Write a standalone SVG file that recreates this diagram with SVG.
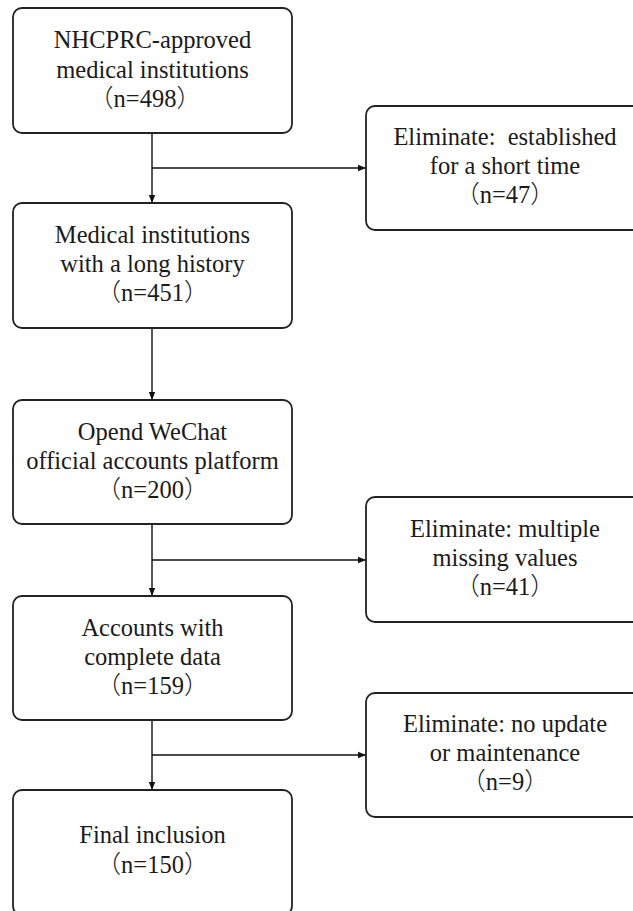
<svg xmlns="http://www.w3.org/2000/svg" width="633" height="911" viewBox="0 0 633 911">
<style>
.box{fill:#fff;stroke:#222;stroke-width:1.8}
.t{font-family:"Liberation Serif","Times New Roman",serif;font-size:24.5px;fill:#1a1a1a;text-anchor:middle}
.p{font-family:"Noto Sans CJK SC",sans-serif;font-weight:300}
.c{fill:none;stroke:#111;stroke-width:1.4}
</style>
<defs>
<marker id="ah" viewBox="0 0 10 10" refX="10" refY="5" markerWidth="8" markerHeight="8" markerUnits="userSpaceOnUse" orient="auto">
<path d="M0,1 L10,5 L0,9 z" fill="#111"/>
</marker>
</defs>
<rect width="633" height="911" fill="#fff"/>
<g id="connectors">
<line class="c" x1="152" y1="133" x2="152" y2="203" marker-end="url(#ah)"/>
<line class="c" x1="152" y1="168" x2="366" y2="168" marker-end="url(#ah)"/>
<line class="c" x1="152" y1="328" x2="152" y2="400" marker-end="url(#ah)"/>
<line class="c" x1="152" y1="524" x2="152" y2="596" marker-end="url(#ah)"/>
<line class="c" x1="152" y1="560" x2="366" y2="560" marker-end="url(#ah)"/>
<line class="c" x1="152" y1="720" x2="152" y2="790" marker-end="url(#ah)"/>
<line class="c" x1="152" y1="755" x2="366" y2="755" marker-end="url(#ah)"/>
</g>
<g id="n1">
<rect class="box" x="13" y="8" width="279" height="125" rx="9"/>
<text class="t" x="152.5" y="48">NHCPRC-approved</text>
<text class="t" x="152.5" y="78">medical institutions</text>
<text class="t" x="145" y="107"><tspan class="p">（</tspan>n=498<tspan class="p">）</tspan></text>
</g>
<g id="e1">
<rect class="box" x="366" y="106" width="279" height="124" rx="9"/>
<text class="t" x="505" y="145" xml:space="preserve">Eliminate:  established</text>
<text class="t" x="505" y="174">for a short time</text>
<text class="t" x="505" y="203"><tspan class="p">（</tspan>n=47<tspan class="p">）</tspan></text>
</g>
<g id="n2">
<rect class="box" x="13" y="203" width="279" height="125" rx="9"/>
<text class="t" x="152.5" y="243">Medical institutions</text>
<text class="t" x="152.5" y="272">with a long history</text>
<text class="t" x="152.5" y="301"><tspan class="p">（</tspan>n=451<tspan class="p">）</tspan></text>
</g>
<g id="n3">
<rect class="box" x="13" y="400" width="279" height="124" rx="9"/>
<text class="t" x="152.5" y="440">Opend WeChat</text>
<text class="t" x="152.5" y="469">official accounts platform</text>
<text class="t" x="152.5" y="498"><tspan class="p">（</tspan>n=200<tspan class="p">）</tspan></text>
</g>
<g id="e2">
<rect class="box" x="366" y="497" width="279" height="125" rx="9"/>
<text class="t" x="505" y="537">Eliminate: multiple</text>
<text class="t" x="505" y="566">missing values</text>
<text class="t" x="505" y="595"><tspan class="p">（</tspan>n=41<tspan class="p">）</tspan></text>
</g>
<g id="n4">
<rect class="box" x="13" y="596" width="279" height="124" rx="9"/>
<text class="t" x="152.5" y="636">Accounts with</text>
<text class="t" x="152.5" y="665">complete data</text>
<text class="t" x="152.5" y="694"><tspan class="p">（</tspan>n=159<tspan class="p">）</tspan></text>
</g>
<g id="e3">
<rect class="box" x="366" y="693" width="279" height="124" rx="9"/>
<text class="t" x="505" y="732">Eliminate: no update</text>
<text class="t" x="505" y="761">or maintenance</text>
<text class="t" x="505" y="790"><tspan class="p">（</tspan>n=9<tspan class="p">）</tspan></text>
</g>
<g id="n5">
<rect class="box" x="13" y="790" width="279" height="125" rx="9"/>
<text class="t" x="152.5" y="843">Final inclusion</text>
<text class="t" x="152.5" y="873"><tspan class="p">（</tspan>n=150<tspan class="p">）</tspan></text>
</g>
</svg>
